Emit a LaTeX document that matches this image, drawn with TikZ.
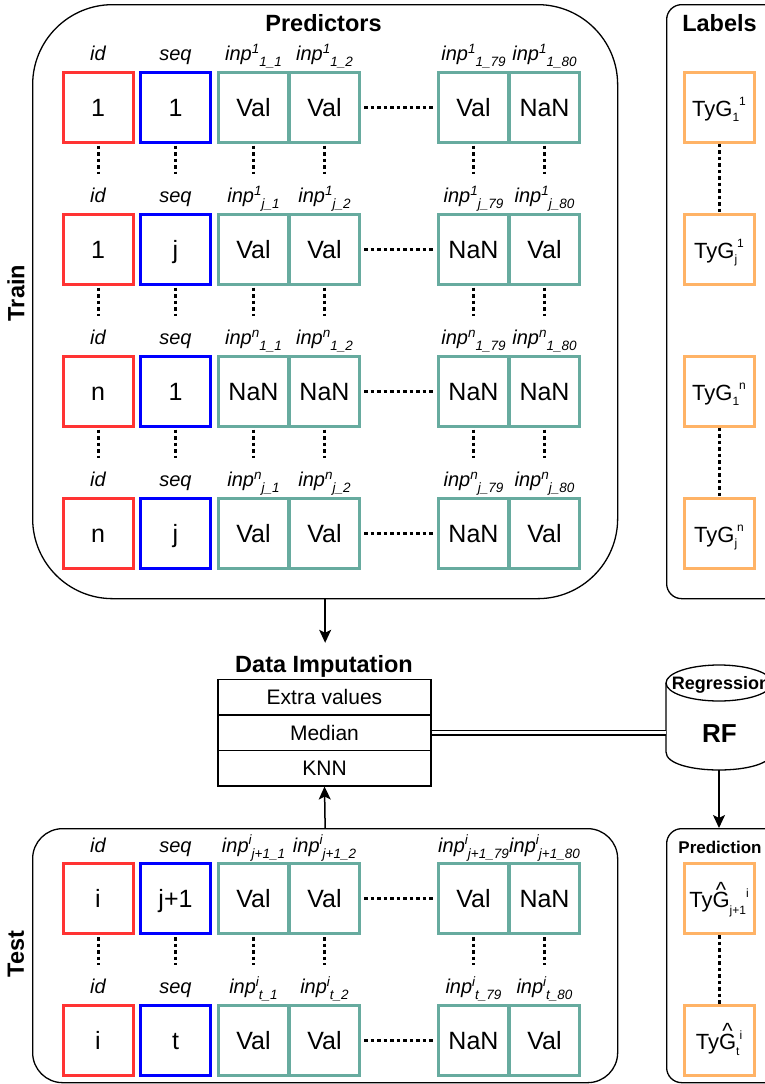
\documentclass[tikz,border=0pt]{standalone}
\usepackage{fontspec}
\setmainfont{Liberation Sans}
\usetikzlibrary{arrows.meta}
\definecolor{cred}{HTML}{FF3333}
\definecolor{cblue}{HTML}{0000FF}
\definecolor{cteal}{HTML}{67AB9F}
\definecolor{corange}{HTML}{FFB366}
\newcommand\fs[1]{\fontsize{#1}{#1}\selectfont}
\newcommand\ip[2]{inp\raisebox{0.36em}{\fs{13.5}#1}\raisebox{-0.3em}{\fs{13.5}#2}}
\newcommand\tyg[2]{TyG\raisebox{-0.27em}{\fs{12}#1}\raisebox{0.5em}{\fs{12}#2}}
\newcommand\Ghat{\ooalign{G\cr\hidewidth\raisebox{0.46em}{\textasciicircum}\hidewidth\cr}}
\newcommand\tygh[2]{Ty\Ghat\raisebox{-0.3em}{\fs{12}#1}\raisebox{0.45em}{\fs{12}#2}}
\tikzset{
  cell/.style={draw, line width=3pt, minimum width=70pt, minimum height=70pt, inner sep=0pt,
    font=\fs{25}, text height=18pt, text depth=0pt},
  ocell/.style={cell, draw=corange, font=\fs{22}},
  lab/.style={font=\fs{20}\itshape, anchor=base, inner sep=0pt},
  ttl/.style={font=\fs{23.5}\bfseries, anchor=base, inner sep=0pt},
  cont/.style={draw, line width=1.3pt, inner sep=0pt, anchor=north west},
  tbl/.style={draw, line width=1.5pt, minimum width=213pt, minimum height=35.5pt, inner sep=0pt,
    font=\fs{21}, text height=15pt, text depth=0pt},
  vdot/.style={line width=3pt, dash pattern=on 3.5pt off 3pt},
  arr/.style={line width=1.5pt, -{Stealth[length=13pt,width=12pt,inset=3pt]}},
}
\begin{document}
\begin{tikzpicture}[x=1pt,y=-1pt]
\useasboundingbox (0,0) rectangle (765,1084);
\clip (0,0) rectangle (765,1084);
% containers
\node[cont, rounded corners=80pt, minimum width=585pt, minimum height=594pt] (train) at (32,4) {};
\node[cont, rounded corners=30pt, minimum width=585pt, minimum height=254pt] (test) at (32,828) {};
\node[cont, rounded corners=15pt, minimum width=120pt, minimum height=594pt] (labels) at (666,4) {};
\node[cont, rounded corners=15pt, minimum width=120pt, minimum height=254pt] (pred) at (666,828) {};
% titles
\node[ttl] (ptitle) at (323.5,31) {Predictors};
\node[ttl] (ltitle) at (719.5,31) {Labels};
\node[ttl, anchor=center, rotate=90] (traintitle) at (16,293) {Train};
\node[ttl, anchor=center, rotate=90] (testtitle) at (16,954) {Test};
\node[ttl] (dititle) at (324,672) {Data Imputation};
\node[ttl, font=\fs{17}\bfseries] (predtitle) at (720,853) {Prediction};
% cells
\foreach \r/\y/\id/\sq/\su/\sb/\va/\vb/\vc/\vd in {
  1/107/1/1/1/1/Val/Val/Val/NaN,
  2/249/1/j/1/j/Val/Val/NaN/Val,
  3/391/n/1/n/1/NaN/NaN/NaN/NaN,
  4/533/n/j/n/j/Val/Val/NaN/Val,
  5/898.5/i/j+1/i/j+1/Val/Val/Val/NaN,
  6/1040/i/t/i/t/Val/Val/NaN/Val}{
  \node[cell, draw=cred] (r\r-c1) at (98,\y) {\id};
  \node[cell, draw=cblue] (r\r-c2) at (175.5,\y) {\sq};
  \node[cell, draw=cteal] (r\r-c3) at (253.5,\y) {\va};
  \node[cell, draw=cteal] (r\r-c4) at (324.5,\y) {\vb};
  \node[cell, draw=cteal] (r\r-c5) at (473.5,\y) {\vc};
  \node[cell, draw=cteal] (r\r-c6) at (544.5,\y) {\vd};
  \node[lab] at ([yshift=10pt]r\r-c1.north) {id};
  \node[lab] at ([yshift=10pt]r\r-c2.north) {seq};
  \node[lab] at ([yshift=10pt]r\r-c3.north) {\ip{\su}{\sb\_1}};
  \node[lab] at ([yshift=10pt]r\r-c4.north) {\ip{\su}{\sb\_2}};
  \node[lab] at ([yshift=10pt]r\r-c5.north) {\ip{\su}{\sb\_79}};
  \node[lab] at ([yshift=10pt]r\r-c6.north) {\ip{\su}{\sb\_80}};
  \draw[vdot, shorten <=3pt, shorten >=1.5pt] (r\r-c4.east) -- (r\r-c5.west);
}
\foreach \c in {1,...,6}{
  \foreach \a/\b in {1/2,2/3,3/4,5/6}{
    \draw[vdot, shorten <=2pt, shorten >=39pt] (r\a-c\c.south) -- (r\b-c\c.north);
  }
}
% label cells
\node[ocell] (l1) at (719,107) {\tyg{1}{1}};
\node[ocell] (l2) at (719,249) {\tyg{j}{1}};
\node[ocell] (l3) at (719,391) {\tyg{1}{n}};
\node[ocell] (l4) at (719,533) {\tyg{j}{n}};
\draw[vdot] (l1.south) -- (l2.north);
\draw[vdot] (l3.south) -- (l4.north);
\node[ocell] (p1) at (719,898.5) {\tygh{j+1}{i}};
\node[ocell] (p2) at (719,1040) {\tygh{t}{i}};
\draw[vdot] (p1.south) -- (p2.north);
% imputation table
\node[tbl] (ex) at (324.5,697) {Extra values};
\node[tbl] (med) at (324.5,732.5) {Median};
\node[tbl] (knn) at (324.5,768) {KNN};
% cylinder
\node[minimum width=106pt, minimum height=105pt, inner sep=0pt] (rf) at (719,717.5) {};
\draw[line width=1.3pt, fill=white] (666,683) -- (666,752) .. controls (666,776) and (772,776) .. (772,752) -- (772,683);
\draw[line width=1.3pt, fill=white] (719,683) ellipse [x radius=53pt, y radius=18pt];
\node[ttl, font=\fs{18}\bfseries] (regt) at (721,689) {Regression};
\node[ttl, font=\fs{26}\bfseries] (rft) at (719.5,742) {RF};
% connectors
\draw[arr, shorten >=12pt] (train.south) -- (train.south |- dititle.north);
\draw[arr] (test.north) -- (knn.south);
\draw[double, double distance=3pt, line width=1.5pt] (med.east) -- (med.east -| rf.west);
\draw[arr] (rf.south) -- (rf.south |- pred.north);
\end{tikzpicture}
\end{document}
